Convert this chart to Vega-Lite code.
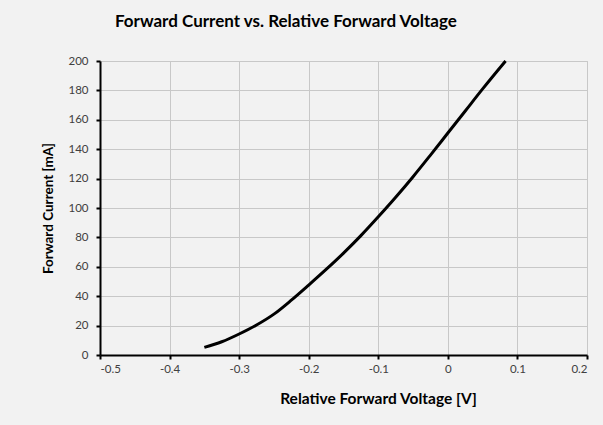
{
  "$schema": "https://vega.github.io/schema/vega-lite/v6.json",
  "width": 487,
  "height": 294,
  "autosize": "none",
  "padding": {"left": 100, "top": 61, "right": 16, "bottom": 70},
  "background": "#f2f2f2",
  "title": {
    "text": "Forward Current vs. Relative Forward Voltage",
    "font": "Lato",
    "fontSize": 17,
    "fontWeight": "bold",
    "color": "#000000",
    "anchor": "start",
    "frame": "group",
    "dx": 15,
    "offset": 24
  },
  "config": {
    "view": {"stroke": "#c8c8c8", "strokeWidth": 1, "fill": "#f2f2f2"},
    "axis": {
      "labelFont": "Lato",
      "labelFontSize": 11.5,
      "labelColor": "#404040",
      "titleFont": "Lato",
      "titleFontWeight": "bold",
      "titleColor": "#000000",
      "gridColor": "#c8c8c8",
      "gridWidth": 1,
      "domainColor": "#000000",
      "domainWidth": 2,
      "tickColor": "#000000",
      "tickWidth": 2,
      "tickSize": 4
    }
  },
  "data": {
    "values": [
      {"v": -0.35, "i": 5.2},
      {"v": -0.325, "i": 9.0},
      {"v": -0.3, "i": 14.3},
      {"v": -0.275, "i": 20.4},
      {"v": -0.25, "i": 27.8},
      {"v": -0.225, "i": 37.3},
      {"v": -0.2, "i": 47.6},
      {"v": -0.175, "i": 58.2},
      {"v": -0.15, "i": 69.3},
      {"v": -0.125, "i": 81.2},
      {"v": -0.1, "i": 94.0},
      {"v": -0.075, "i": 107.3},
      {"v": -0.05, "i": 121.3},
      {"v": -0.025, "i": 136.0},
      {"v": 0.0, "i": 151.0},
      {"v": 0.025, "i": 166.0},
      {"v": 0.05, "i": 181.0},
      {"v": 0.083, "i": 200.0}
    ]
  },
  "mark": {"type": "line", "color": "#000000", "strokeWidth": 3, "interpolate": "monotone"},
  "encoding": {
    "x": {
      "field": "v",
      "type": "quantitative",
      "scale": {"domain": [-0.5, 0.2], "nice": false, "zero": false},
      "axis": {
        "values": [-0.5, -0.4, -0.3, -0.2, -0.1, 0, 0.1, 0.2],
        "labelExpr": "toString(datum.value)",
        "title": "Relative Forward Voltage [V]",
        "titleFontSize": 15.5,
        "labelPadding": 4,
        "titleX": 278,
        "titleY": 43,
        "titleBaseline": "middle",
        "titleAnchor": "middle"
      }
    },
    "y": {
      "field": "i",
      "type": "quantitative",
      "scale": {"domain": [0, 200], "nice": false},
      "axis": {
        "values": [0, 20, 40, 60, 80, 100, 120, 140, 160, 180, 200],
        "title": "Forward Current [mA]",
        "titleFontSize": 13.5,
        "labelPadding": 8,
        "titlePadding": 12
      }
    }
  }
}
